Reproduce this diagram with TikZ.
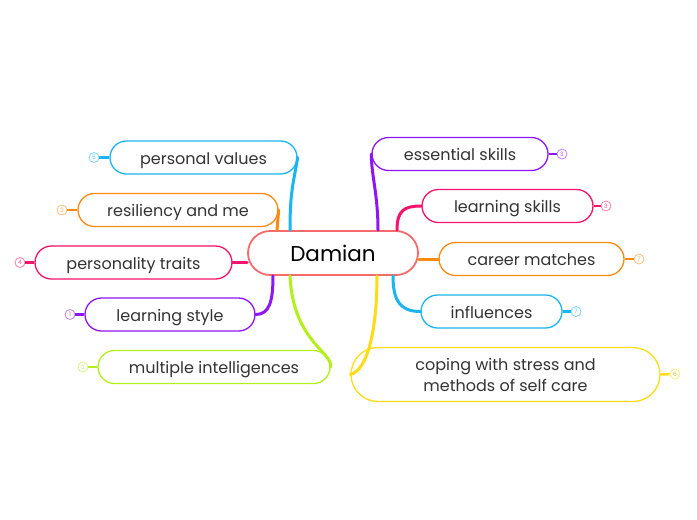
\documentclass[tikz,border=0pt]{standalone}
\usepackage{fontspec}
\setmainfont{Poppins}
\usetikzlibrary{calc}
\definecolor{cCyan}{HTML}{1BB5F2}
\definecolor{cOrange}{HTML}{FF8A12}
\definecolor{cPink}{HTML}{F5136B}
\definecolor{cPurple}{HTML}{8E16F5}
\definecolor{cLime}{HTML}{B2F01B}
\definecolor{cYellow}{HTML}{FFDC14}
\definecolor{cRed}{HTML}{F56B6B}
\definecolor{txt}{HTML}{333333}
\begin{document}
\begin{tikzpicture}[x=1pt,y=-1pt,
  child/.style={draw, line width=1.3pt, fill=white, rounded corners=16.5pt, minimum height=33pt, inner sep=0pt, font=\fontsize{16}{21}\selectfont, text=txt, text height=14pt, text depth=1pt},
  conn/.style={line width=3pt, line cap=round},
  badge/.style={circle, draw, line width=0.8pt, fill=white, minimum size=10pt, inner sep=0pt, font=\fontsize{6}{6}\selectfont},
  stub/.style={line width=2.5pt}]
\fill[white] (0,0) rectangle (697,520);
\useasboundingbox (0,0) rectangle (697,520);

% central
\node[draw=cRed, line width=1.8pt, fill=white, rounded corners=22pt, minimum width=170pt, minimum height=44pt, inner sep=0pt, font=\fontsize{21.5}{24}\selectfont, text=black, text height=17pt, text depth=1pt] (dam) at (333,253) {Damian};

% left children
\node[child, draw=cCyan, minimum width=187pt] (pv) at (203.5,157.5) {personal values};
\node[child, draw=cOrange, minimum width=200pt] (res) at (178,210) {resiliency and me};
\node[child, draw=cPink, minimum width=197pt] (pt) at (133.5,262.5) {personality traits};
\node[child, draw=cPurple, minimum width=170pt] (ls) at (170,314.5) {learning style};
\node[child, draw=cLime, minimum width=232pt] (mi) at (214,367) {multiple intelligences};

% right children
\node[child, draw=cPurple, minimum width=176pt] (es) at (460,154) {essential skills};
\node[child, draw=cPink, minimum width=171pt] (lsk) at (507.5,206) {learning skills};
\node[child, draw=cOrange, minimum width=185pt] (cm) at (531.5,259) {career matches};
\node[child, draw=cCyan, minimum width=141pt] (inf) at (491.5,311.5) {influences};
\node[child, draw=cYellow, minimum width=309pt, minimum height=54pt, rounded corners=27pt, align=center, text height=, text depth=] (cop) at (505.5,374.5) {coping with stress and\\methods of self care};

% badges
\node[badge, draw=cCyan!55, text=cCyan!70] (pvb) at (94,157.5) {5};
\node[badge, draw=cOrange!55, text=cOrange!70] (resb) at (62,210) {3};
\node[badge, draw=cPink!55, text=cPink!70] (ptb) at (20,262.5) {4};
\node[badge, draw=cPurple!55, text=cPurple!70] (lsb) at (70,314.5) {1};
\node[badge, draw=cLime!55, text=cLime!70] (mib) at (83,367) {3};
\node[badge, draw=cPurple!55, text=cPurple!70] (esb) at (562,154) {3};
\node[badge, draw=cPink!55, text=cPink!70] (lskb) at (606,206) {3};
\node[badge, draw=cOrange!55, text=cOrange!70] (cmb) at (639,259) {7};
\node[badge, draw=cCyan!55, text=cCyan!70] (infb) at (576,311.5) {7};
\node[badge, draw=cYellow!55, text=cYellow!80!black!90] (copb) at (675,374) {6};

\draw[stub, cCyan] (pvb) -- (pv.west);
\draw[stub, cOrange] (resb) -- (res.west);
\draw[stub, cPink] (ptb) -- (pt.west);
\draw[stub, cPurple] (lsb) -- (ls.west);
\draw[stub, cLime] (mib) -- (mi.west);
\draw[stub, cPurple] (esb) -- (es.east);
\draw[stub, cPink] (lskb) -- (lsk.east);
\draw[stub, cOrange] (cmb) -- (cm.east);
\draw[stub, cCyan] (infb) -- (inf.east);
\draw[stub, cYellow] (copb) -- (cop.east);

% connectors
\draw[conn, cCyan] ($(dam.north)+(-43,0)$) .. controls ($(dam.north)+(-43,-40)$) and ($(pv.east)+(-4,25)$) .. (pv.east);
\draw[conn, cOrange] ($(dam.north)+(-56,0)$) .. controls ($(dam.north)+(-56,-10)$) and ($(res.east)+(0,10)$) .. (res.east);
\draw[conn, cPink] (dam.west |- pt.east) -- (pt.east);
\draw[conn, cPurple] ($(dam.south)+(-60,0)$) .. controls ($(dam.south)+(-60,25)$) and ($(ls.east)+(14,0)$) .. (ls.east);
\draw[conn, cLime] ($(dam.south)+(-43,0)$) .. controls ($(dam.south)+(-40,65)$) and ($(mi.east)+(2,-15)$) .. (mi.east);
\draw[conn, cPurple] ($(dam.north)+(45,0)$) .. controls ($(dam.north)+(45,-36)$) and ($(es.west)+(0,22)$) .. (es.west);
\draw[conn, cPink] ($(dam.north)+(64,0)$) .. controls ($(dam.north)+(64,-20)$) and ($(lsk.west)+(-17,0)$) .. (lsk.west);
\draw[conn, cOrange] (dam.east |- cm.west) -- (cm.west);
\draw[conn, cCyan] ($(dam.south)+(60,0)$) .. controls ($(dam.south)+(60,25)$) and ($(inf.west)+(-20,0)$) .. (inf.west);
\draw[conn, cYellow] ($(dam.south)+(44,0)$) .. controls ($(dam.south)+(44,55)$) and ($(cop.west)+(17,-4)$) .. (cop.west);
\end{tikzpicture}
\end{document}
